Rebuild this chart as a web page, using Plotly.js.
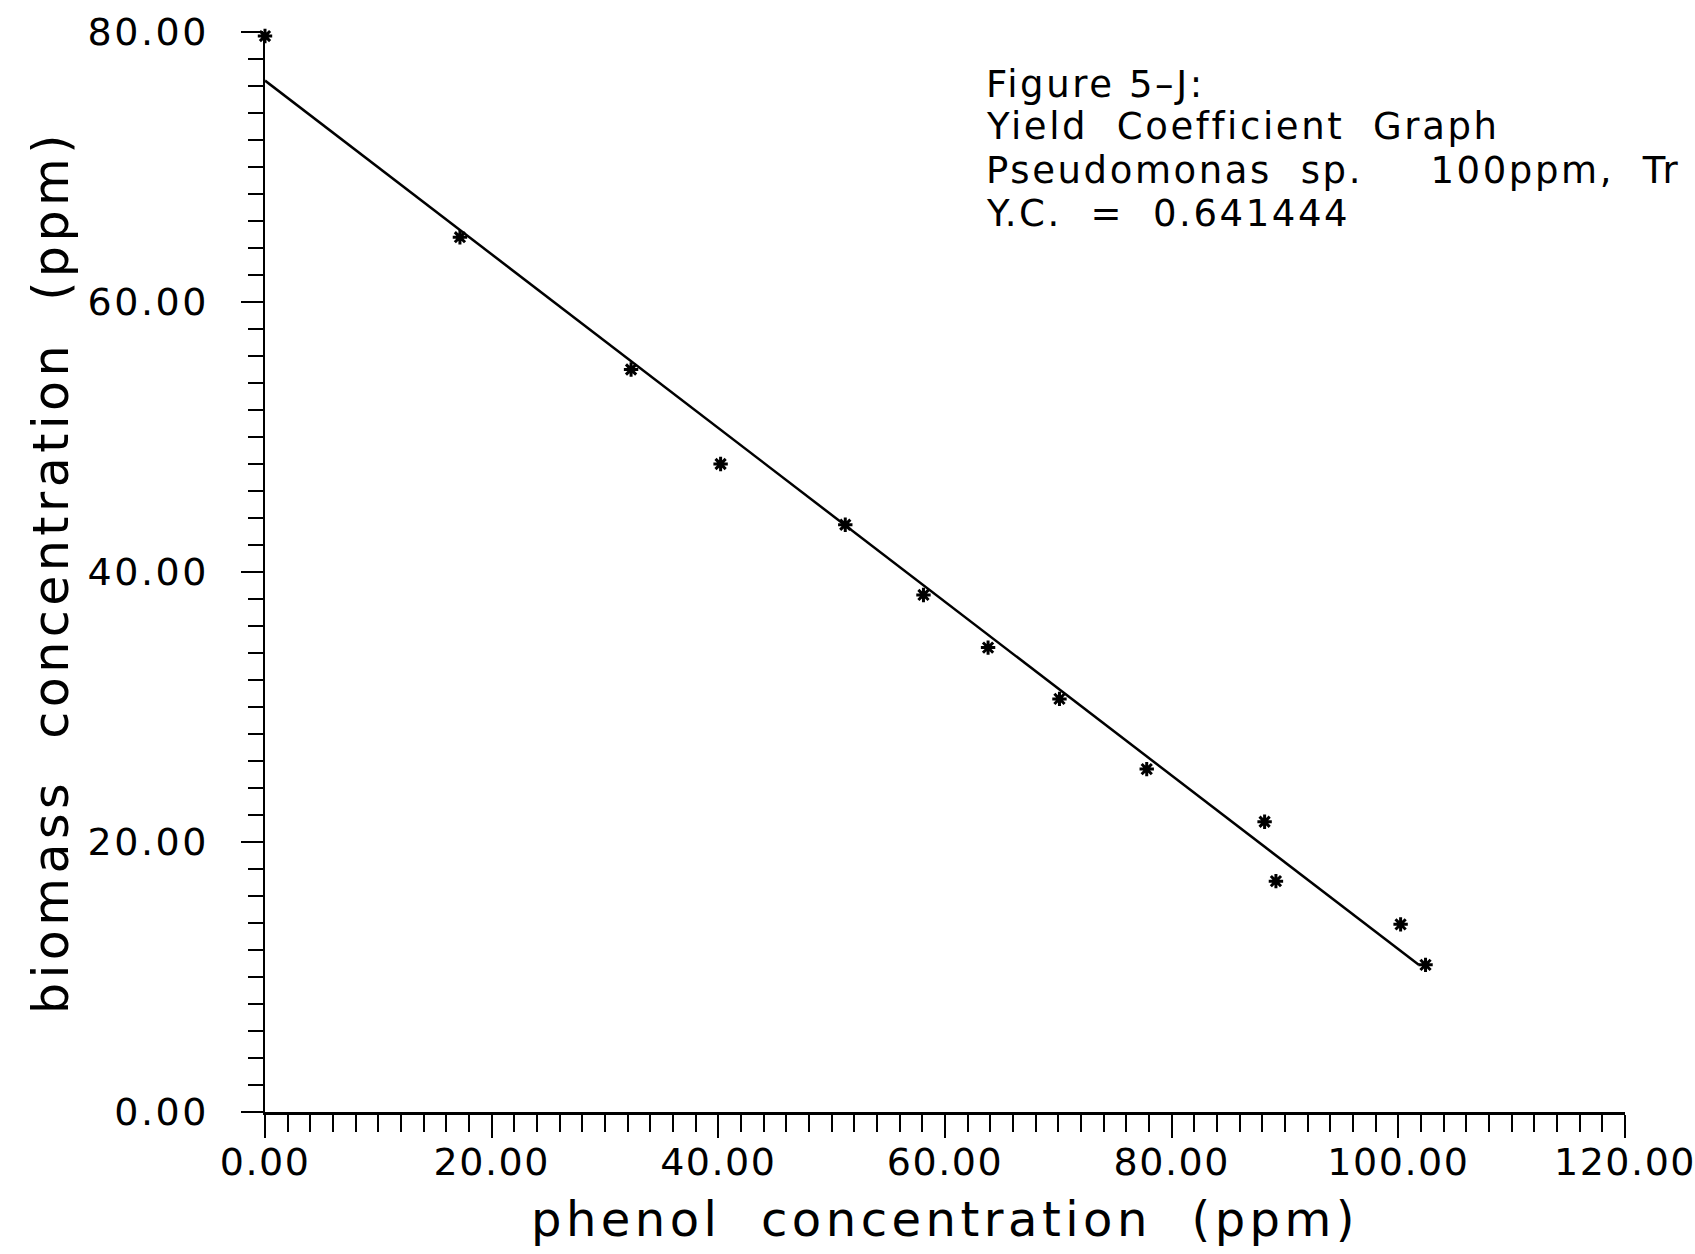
<!DOCTYPE html>
<html>
<head>
<meta charset="utf-8">
<script src="https://cdn.plot.ly/plotly-3.0.1.min.js"></script>
<style>
  html, body { margin: 0; padding: 0; background: #ffffff; }
  #chart { width: 1695px; height: 1254px; }
  .ytick text { letter-spacing: 2.5px; }
  .xtick text { letter-spacing: 1.5px; }
  text.xtitle, text.ytitle { letter-spacing: 4.5px; }
  text.annotation-text { letter-spacing: 2.6px; }
</style>
</head>
<body>
<div id="chart"></div>
<script>
// Measured data (phenol concentration vs biomass concentration, ppm)
const phenol  = [0, 17.2, 32.3, 40.2, 51.2, 58.1, 63.8, 70.1, 77.8, 88.2, 89.2, 100.2, 102.4];
const biomass = [79.7, 64.8, 55.0, 48.0, 43.5, 38.3, 34.4, 30.6, 25.4, 21.5, 17.1, 13.9, 10.9];

// Fitted line end points as drawn on the figure
const fitX = [0, 101.8];
const fitY = [76.4, 10.9];

// Axis tick values and labels
const xTickVals = [0, 20, 40, 60, 80, 100, 120];
const xTickText = ["0.00", "20.00", "40.00", "60.00", "80.00", "100.00", "120.00"];
const yTickVals = [0, 20, 40, 60, 80];
const yTickText = ["0.00", "20.00", "40.00", "60.00", "80.00"];

// Caption text lines
const noteLines = [
  "Figure 5\u2013J:",
  "Yield\u00a0 Coefficient\u00a0 Graph",
  "Pseudomonas\u00a0 sp.\u00a0\u00a0\u00a0\u2009 100ppm,\u00a0 Tr",
  "Y.C.\u00a0 =\u00a0 0.641444"
];

const xTitle = "phenol\u00a0 concentration\u00a0 (ppm)";
const yTitle = "biomass\u00a0 concentration\u00a0 (ppm)";

const FONT = "DejaVu Sans, sans-serif";

const traces = [
  {
    x: fitX, y: fitY, type: "scatter", mode: "lines",
    line: { color: "#000000", width: 2.5 },
    hoverinfo: "skip", showlegend: false, cliponaxis: false
  },
  {
    x: phenol, y: biomass, type: "scatter", mode: "markers",
    marker: { symbol: "asterisk-open", size: 12, color: "#000000",
              line: { color: "#000000", width: 3 } },
    showlegend: false, cliponaxis: false
  }
];

// caption positions (paper units, one per line)
const plotTopPx = 32, plotBotPx = 1112;
const capCenters = [84, 127, 170, 213];
const annotations = noteLines.map((t, i) => ({
  text: t, xref: "paper", yref: "paper",
  x: (985 - 265) / (1625 - 265),
  y: (plotBotPx - capCenters[i]) / (plotBotPx - plotTopPx),
  xanchor: "left", yanchor: "middle", showarrow: false, align: "left",
  borderpad: 0,
  font: { family: FONT, size: 37, color: "#000000" }
}));

const layout = {
  width: 1695, height: 1254,
  paper_bgcolor: "#ffffff", plot_bgcolor: "#ffffff",
  margin: { l: 265, r: 70, t: 32, b: 142, pad: 0 },
  showlegend: false,
  font: { family: FONT, color: "#000000" },
  xaxis: {
    range: [0, 120], autorange: false,
    showgrid: false, zeroline: false,
    showline: true, linecolor: "#000000", linewidth: 2.5,
    ticks: "outside", ticklen: 23, tickwidth: 2.2, tickcolor: "#000000",
    tickvals: xTickVals, ticktext: xTickText,
    tickfont: { family: FONT, size: 38, color: "#000000" },
    ticklabelstandoff: -8,
    ticklabeloverflow: "allow",
    minor: { dtick: 2, ticks: "outside", ticklen: 17, tickwidth: 2, tickcolor: "#000000", showgrid: false },
    title: { text: xTitle, font: { family: FONT, size: 48, color: "#000000" }, standoff: 20 },
    automargin: false
  },
  yaxis: {
    range: [0, 80], autorange: false,
    showgrid: false, zeroline: false,
    showline: true, linecolor: "#000000", linewidth: 2.5,
    ticks: "outside", ticklen: 22, tickwidth: 2.2, tickcolor: "#000000",
    tickvals: yTickVals, ticktext: yTickText,
    tickfont: { family: FONT, size: 38, color: "#000000" },
    ticklabelstandoff: 24,
    ticklabeloverflow: "allow",
    minor: { dtick: 2, ticks: "outside", ticklen: 15, tickwidth: 2, tickcolor: "#000000", showgrid: false },
    title: { text: yTitle, font: { family: FONT, size: 49, color: "#000000" }, standoff: 4 },
    automargin: false
  },
  annotations: annotations
};

Plotly.newPlot("chart", traces, layout, { staticPlot: true, displayModeBar: false });
</script>
</body>
</html>
